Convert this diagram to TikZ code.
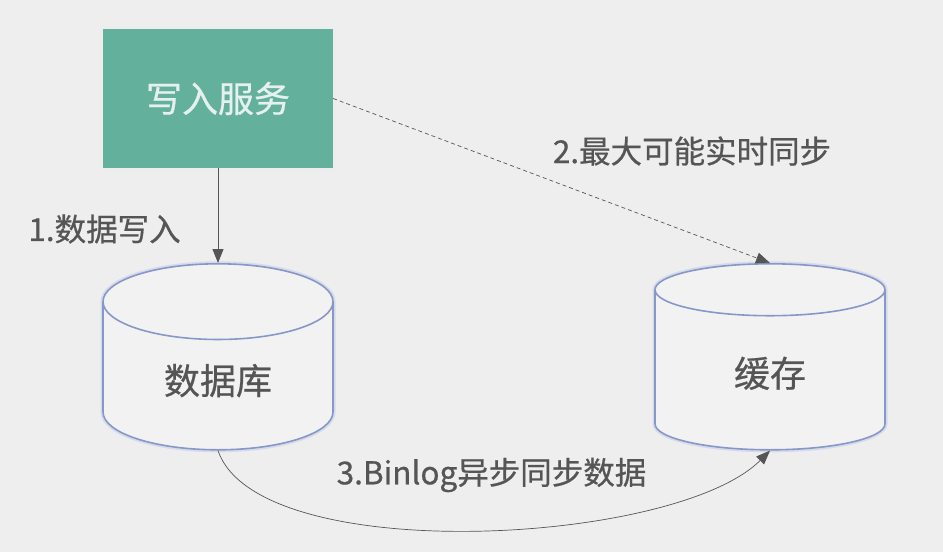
\documentclass[tikz,border=0pt]{standalone}
\usepackage{fontspec}
\newfontfamily\cjk[FakeBold=0.6]{Noto Sans CJK SC}
\usepackage{tikz}
\usetikzlibrary{
  arrows.meta,
  calc,
  positioning,
  shapes.geometric
}
\definecolor{bggray}{HTML}{EEEEEE}
\definecolor{svcgreen}{HTML}{63B09D}
\definecolor{svctext}{HTML}{E6F0EE}
\definecolor{dbedge}{HTML}{8797C8}
\definecolor{dbglow}{HTML}{D6DBEC}
\definecolor{inkgray}{HTML}{555555}
\tikzset{>={Triangle[length=14pt,width=11pt]}}

\begin{document}
\begin{tikzpicture}[x=1pt,y=-1pt,
    service/.style={fill=svcgreen,text=svctext,minimum width=230pt,minimum height=139pt,
      font=\fontsize{36}{40}\selectfont\cjk,
      preaction={draw=black!7,line width=6pt}},
    store/.style={cylinder,shape border rotate=90,aspect=0.66,draw=dbedge,fill=bggray!75!white,
      line width=1.6pt,minimum width=230pt,minimum height=186pt,text=inkgray,
      font=\fontsize{36}{40}\selectfont\cjk,anchor=north,
      preaction={draw=dbglow,line width=5pt}},
    steplabel/.style={text=inkgray,font=\fontsize{31.5}{36}\selectfont\cjk},
    flow/.style={->,draw=inkgray,line width=0.9pt}]
  \useasboundingbox[fill=bggray] (0,0) rectangle (943,552);
  % service, database, cache
  \node[service] (wr) at (218,98.5) {写入服务};
  \node[store] (db) at (218,263) {数据库};
  \node[store] (cache) at (770,263) {缓存};
  % flows
  \draw[flow] (wr.south) -- (db.north);
  \draw[flow,line width=0.7pt,dash pattern=on 4pt off 3pt] (wr.east) -- (cache.north);
  \draw[flow,line width=0.7pt] (db.south) .. controls +(40,117) and +(-95,95) .. (cache.south);
  % labels
  \node[steplabel] (l1) at (104.5,229) {1.数据写入};
  \node[steplabel] (l2) at (692,151) {2.最大可能实时同步};
  \node[steplabel] (l3) at (491.5,475) {3.Binlog异步同步数据};
\end{tikzpicture}
\end{document}
